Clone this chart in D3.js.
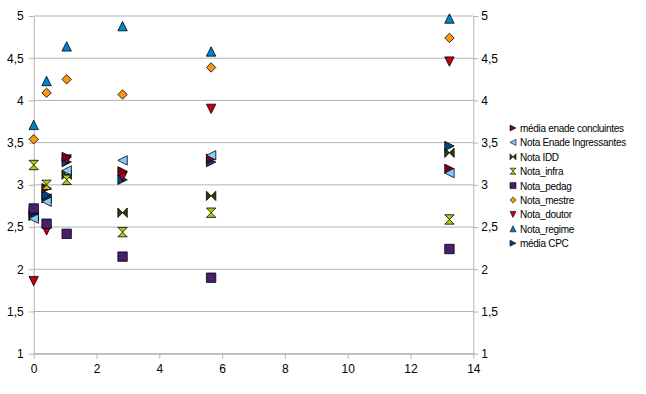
<!DOCTYPE html>
<html>
<head>
<meta charset="utf-8">
<script src="https://cdn.jsdelivr.net/npm/d3@7"></script>
<style>
  body { margin: 0; background: #fff; }
  svg { display: block; }
  text { font-family: "Liberation Sans", Arial, sans-serif; fill: #000; }
</style>
</head>
<body>
<div id="chart"></div>
<script>
// x positions shared by every series
const xValues = [0, 0.41, 1.05, 2.83, 5.65, 13.24];

const mediaEnade = [2.68, 2.96, 3.33, 3.16, 3.31, 3.19];
const enadeIngressantes = [2.60, 2.80, 3.17, 3.29, 3.35, 3.14];
const notaIDD = [2.63, 2.84, 3.12, 2.67, 2.87, 3.38];
const notaInfra = [3.235, 3.00, 3.06, 2.44, 2.67, 2.59];
const notaPedag = [2.72, 2.54, 2.42, 2.15, 1.90, 2.24];
const notaMestre = [3.54, 4.09, 4.25, 4.07, 4.39, 4.74];
const notaDoutor = [1.86, 2.46, 3.30, 3.10, 3.90, 4.46];
const notaRegime = [3.71, 4.23, 4.64, 4.88, 4.58, 4.97];
const mediaCPC = [2.64, 2.88, 3.27, 3.06, 3.27, 3.46];

const xTicks = [0, 2, 4, 6, 8, 10, 12, 14];
const yTicks = [1, 1.5, 2, 2.5, 3, 3.5, 4, 4.5, 5];

const seriesList = [
  {name: 'média enade concluintes', values: mediaEnade, color: '#7e0021', shape: 'right'},
  {name: 'Nota Enade Ingressantes', values: enadeIngressantes, color: '#83caff', shape: 'left'},
  {name: 'Nota IDD', values: notaIDD, color: '#314004', shape: 'bowtie'},
  {name: 'Nota_infra', values: notaInfra, color: '#aecf00', shape: 'hourglass'},
  {name: 'Nota_pedag', values: notaPedag, color: '#4b1f6f', shape: 'square'},
  {name: 'Nota_mestre', values: notaMestre, color: '#ff950e', shape: 'diamond'},
  {name: 'Nota_doutor', values: notaDoutor, color: '#c5000b', shape: 'down'},
  {name: 'Nota_regime', values: notaRegime, color: '#0084d1', shape: 'up'},
  {name: 'média CPC', values: mediaCPC, color: '#004586', shape: 'right'}
];
// painting order (later on top)
const drawOrder = ['Nota IDD', 'média CPC', 'Nota_doutor', 'média enade concluintes', 'Nota Enade Ingressantes',
  'Nota_infra', 'Nota_pedag', 'Nota_mestre', 'Nota_regime'];

const w = 646;
const h = 394;
const plotLeft = 33.7, plotRight = 473.3, plotTop = 16, plotBottom = 353.7;

const fmt = d3.formatLocale({decimal: ',', thousands: '.', grouping: [3], currency: ['', '']}).format('~g');

const markerPath = (shape, r) => {
  switch (shape) {
    case 'up': return `M${-r},${r}L${r},${r}L0,${-r}Z`;
    case 'down': return `M${-r},${-r}L${r},${-r}L0,${r}Z`;
    case 'right': return `M${-r},${-r}L${r},0L${-r},${r}Z`;
    case 'left': return `M${r},${-r}L${-r},0L${r},${r}Z`;
    case 'bowtie': return `M${-r},${-r}L${r},${r}L${r},${-r}L${-r},${r}Z`;
    case 'hourglass': return `M${-r},${-r}L${r},${-r}L${-r},${r}L${r},${r}Z`;
    case 'diamond': return `M0,${-r}L${r},0L0,${r}L${-r},0Z`;
    default: return `M${-r},${-r}L${r},${-r}L${r},${r}L${-r},${r}Z`;
  }
};

const svg = d3.select('#chart')
  .append('svg')
  .attr('width', w)
  .attr('height', h);

const xScale = d3.scaleLinear().domain([0, 14]).range([plotLeft, plotRight]);
const yScale = d3.scaleLinear().domain([1, 5]).range([plotBottom, plotTop]);

// horizontal grid
svg.append('g')
  .selectAll('line')
  .data(yTicks)
  .enter()
  .append('line')
  .attr('x1', plotLeft)
  .attr('x2', plotRight)
  .attr('y1', d => yScale(d))
  .attr('y2', d => yScale(d))
  .attr('stroke', '#b3b3b3');

const styleAxis = (g) => {
  g.select('.domain').attr('stroke', '#b3b3b3');
  g.selectAll('.tick line').attr('stroke', '#b3b3b3');
  g.selectAll('.tick text')
    .attr('font-size', 12)
    .attr('font-family', '"Liberation Sans", Arial, sans-serif')
    .attr('fill', '#000');
};

svg.append('g')
  .attr('transform', `translate(${plotLeft},0)`)
  .call(d3.axisLeft(yScale).tickValues(yTicks).tickFormat(fmt).tickSize(5).tickSizeOuter(0).tickPadding(5))
  .call(styleAxis);

svg.append('g')
  .attr('transform', `translate(${plotRight},0)`)
  .call(d3.axisRight(yScale).tickValues(yTicks).tickFormat(fmt).tickSize(5).tickSizeOuter(0).tickPadding(3))
  .call(styleAxis);

svg.append('g')
  .attr('transform', `translate(0,${plotBottom})`)
  .call(d3.axisBottom(xScale).tickValues(xTicks).tickFormat(fmt).tickSize(5).tickSizeOuter(0).tickPadding(6))
  .call(styleAxis);

// points
const ordered = drawOrder.map(n => seriesList.find(s => s.name === n));
ordered.forEach(s => {
  svg.append('g')
    .selectAll('path')
    .data(s.values)
    .enter()
    .append('path')
    .attr('transform', (d, i) => `translate(${xScale(xValues[i])},${yScale(d)})`)
    .attr('d', markerPath(s.shape, 4.7))
    .attr('fill', s.color)
    .attr('stroke', '#000')
    .attr('stroke-width', 0.8);
});

// legend
const legend = svg.append('g').attr('transform', 'translate(513,128)');
const rows = legend.selectAll('g')
  .data(seriesList)
  .enter()
  .append('g')
  .attr('transform', (d, i) => `translate(0,${i * 14.4})`);

rows.append('path')
  .attr('d', d => markerPath(d.shape, 3))
  .attr('fill', d => d.color)
  .attr('stroke', '#000')
  .attr('stroke-width', 0.6);

rows.append('text')
  .attr('x', 7)
  .attr('y', 4)
  .attr('font-size', 10)
  .attr('letter-spacing', -0.3)
  .text(d => d.name);
</script>
</body>
</html>
